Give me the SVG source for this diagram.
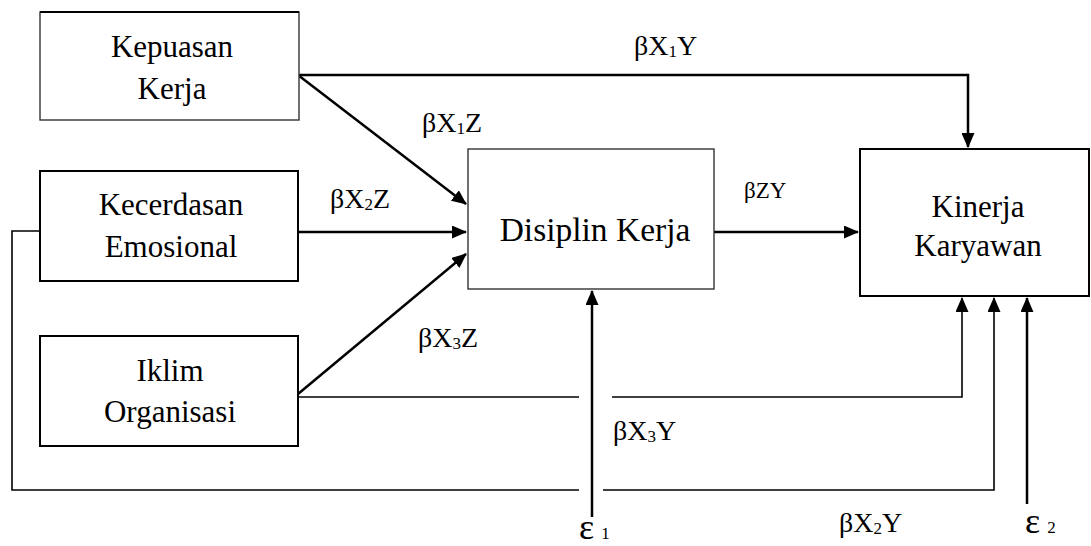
<svg xmlns="http://www.w3.org/2000/svg" width="1091" height="546" viewBox="0 0 1091 546">
<style>
.box{fill:#fff;stroke:#000;stroke-width:2}
.thin{fill:#fff;stroke:#333;stroke-width:1.4}
.t{font-family:'Liberation Serif','Times New Roman',serif;font-size:31px;fill:#000;text-anchor:middle}
.l{font-family:'Liberation Serif','Times New Roman',serif;font-size:28px;fill:#000}
.s{font-size:17px}
.ln{fill:none;stroke:#000;stroke-width:2.5}
.lt{fill:none;stroke:#000;stroke-width:1.6}
</style>
<defs>
<marker id="ah" markerUnits="userSpaceOnUse" markerWidth="15" markerHeight="13" refX="14" refY="6.5" orient="auto">
<path d="M0,0 L15,6.5 L0,13 Z" fill="#000"/>
</marker>
</defs>
<rect width="1091" height="546" fill="#fff"/>
<g id="connectors">
<path class="ln" d="M298,75 H968 V147" marker-end="url(#ah)"/>
<path class="ln" d="M298,75 L466,204" marker-end="url(#ah)"/>
<path class="ln" d="M298,232 H466" marker-end="url(#ah)"/>
<path class="ln" d="M298,394 L466,254" marker-end="url(#ah)"/>
<path class="ln" d="M714,232 H858" marker-end="url(#ah)"/>
<path class="lt" d="M298,397 H579"/>
<path class="lt" d="M612,397 H962 V298" marker-end="url(#ah)"/>
<path class="lt" d="M40,231 H12 V490 H579"/>
<path class="lt" d="M603,490 H994 V298" marker-end="url(#ah)"/>
<path class="ln" d="M592,517 V291" marker-end="url(#ah)"/>
<path class="ln" d="M1027,504 V298" marker-end="url(#ah)"/>
</g>
<g id="kepuasan">
<rect class="thin" x="40" y="12" width="259" height="108"/>
<line x1="40" y1="12" x2="299" y2="12" stroke="#000" stroke-width="2"/>
<text class="t" x="172" y="57">Kepuasan</text>
<text class="t" x="172" y="99">Kerja</text>
</g>
<g id="kecerdasan">
<rect class="box" x="40" y="171" width="258" height="110"/>
<text class="t" x="171" y="215">Kecerdasan</text>
<text class="t" x="171" y="257">Emosional</text>
</g>
<g id="iklim">
<rect class="box" x="40" y="336" width="258" height="110"/>
<text class="t" x="170" y="381">Iklim</text>
<text class="t" x="170" y="422">Organisasi</text>
</g>
<g id="disiplin">
<rect class="thin" x="468" y="149" width="246" height="140"/>
<text class="t" x="595" y="241" style="font-size:33.5px">Disiplin Kerja</text>
</g>
<g id="kinerja">
<rect class="box" x="860" y="149" width="229" height="147"/>
<text class="t" x="978" y="217">Kinerja</text>
<text class="t" x="978" y="256">Karyawan</text>
</g>
<g id="labels">
<text class="l" x="634" y="55">βX<tspan class="s" dy="2">1</tspan><tspan dy="-2">Y</tspan></text>
<text class="l" x="422" y="132">βX<tspan class="s" dy="2">1</tspan><tspan dy="-2">Z</tspan></text>
<text class="l" x="330" y="208">βX<tspan class="s" dy="2">2</tspan><tspan dy="-2">Z</tspan></text>
<text class="l" x="744" y="198" style="font-size:23px">βZY</text>
<text class="l" x="418" y="347">βX<tspan class="s" dy="2">3</tspan><tspan dy="-2">Z</tspan></text>
<text class="l" x="613" y="440">βX<tspan class="s" dy="2">3</tspan><tspan dy="-2">Y</tspan></text>
<text class="l" x="839" y="532">βX<tspan class="s" dy="2">2</tspan><tspan dy="-2">Y</tspan></text>
<text class="l" x="579" y="539" style="font-size:36px">ε<tspan class="s" dx="7">1</tspan></text>
<text class="l" x="1025" y="533" style="font-size:36px">ε<tspan class="s" dx="7">2</tspan></text>
</g>
</svg>
